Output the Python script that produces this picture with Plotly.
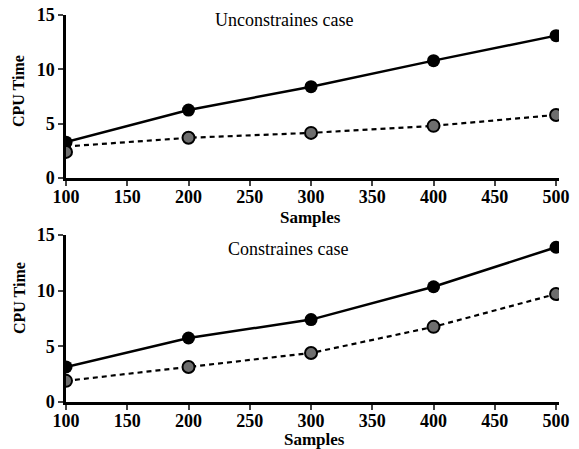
import plotly.graph_objects as go

samples = [100, 200, 300, 400, 500]
uncon_a = [3.3, 6.25, 8.4, 10.8, 13.1]
uncon_b = [2.4, 3.7, 4.15, 4.8, 5.8]
uncon_b_line = [2.9, 3.7, 4.15, 4.8, 5.8]
con_a = [3.15, 5.75, 7.4, 10.35, 13.9]
con_b = [1.9, 3.15, 4.4, 6.75, 9.7]
x_ticks = [100, 150, 200, 250, 300, 350, 400, 450, 500]
y_ticks = [0, 5, 10, 15]
titles = ["Unconstraines case", "Constraines case"]

W, H = 579, 449
fig = go.Figure()

def add(xa, ya, a, b, bline):
    fig.add_trace(go.Scatter(x=samples, y=a, mode="lines+markers", xaxis=xa, yaxis=ya,
                             line=dict(color="black", width=2.5),
                             marker=dict(size=13, color="black"), showlegend=False))
    fig.add_trace(go.Scatter(x=samples, y=bline, mode="lines", xaxis=xa, yaxis=ya,
                             line=dict(color="black", width=2.2, dash="5px,4px"), showlegend=False))
    fig.add_trace(go.Scatter(x=samples, y=b, mode="markers", xaxis=xa, yaxis=ya,
                             marker=dict(size=12, color="#6e6e6e", line=dict(color="black", width=2)),
                             showlegend=False))

add("x", "y", uncon_a, uncon_b, uncon_b_line)
add("x2", "y2", con_a, con_b, con_b)

serif = "Liberation Serif"
tickfont = dict(family=serif, size=18, color="black", weight="bold")
xd = [66 / W, 559 / W]
common_x = dict(range=[100, 502.4], tickvals=x_ticks, ticks="outside", ticklen=5, tickwidth=2,
                showline=True, linewidth=2.5, linecolor="black", showgrid=False, zeroline=False,
                tickfont=tickfont, domain=xd, fixedrange=True, automargin=False,
                ticklabelstandoff=-4)
common_y = dict(range=[0, 15], tickvals=y_ticks, ticks="outside", ticklen=5, tickwidth=2,
                showline=True, linewidth=2.5, linecolor="black", showgrid=False, zeroline=False,
                tickfont=tickfont, fixedrange=True, automargin=False)

fig.update_layout(
    width=W, height=H, margin=dict(l=0, r=0, t=0, b=0),
    paper_bgcolor="white", plot_bgcolor="white",
    xaxis=dict(common_x, anchor="y"),
    yaxis=dict(common_y, anchor="x", domain=[(H - 178) / H, (H - 15) / H]),
    xaxis2=dict(common_x, anchor="y2"),
    yaxis2=dict(common_y, anchor="x2", domain=[(H - 402) / H, (H - 235) / H]),
)

ann = [
    dict(text=titles[0], x=284 / W, y=1 - 20 / H, font=dict(family=serif, size=18, color="black")),
    dict(text=titles[1], x=288 / W, y=1 - 249 / H, font=dict(family=serif, size=18, color="black")),
    dict(text="Samples", x=311 / W, y=1 - 217 / H, font=dict(family=serif, size=17, color="black", weight="bold")),
    dict(text="Samples", x=314 / W, y=1 - 439 / H, font=dict(family=serif, size=17, color="black", weight="bold")),
    dict(text="CPU Time", x=19 / W, y=1 - 91 / H, textangle=-90, font=dict(family=serif, size=16, color="black", weight="bold")),
    dict(text="CPU Time", x=19 / W, y=1 - 298 / H, textangle=-90, font=dict(family=serif, size=16, color="black", weight="bold")),
]
for a in ann:
    a.update(xref="paper", yref="paper", showarrow=False, xanchor="center", yanchor="middle")
fig.update_layout(annotations=ann)

fig.write_html("out.html")
